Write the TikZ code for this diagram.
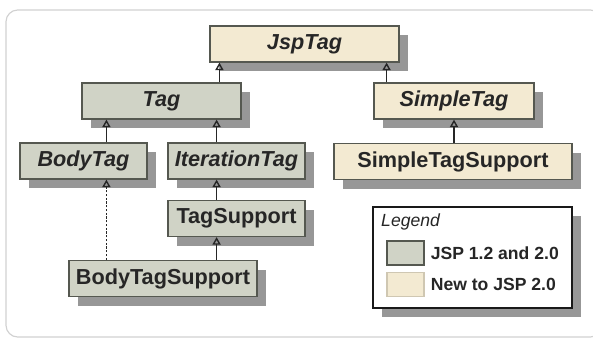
\documentclass[tikz,border=0pt]{standalone}
\usepackage{fontspec}
\setmainfont{Liberation Sans}
\usetikzlibrary{arrows.meta,shadows,calc}
\definecolor{oldfill}{RGB}{208,211,198}
\definecolor{newfill}{RGB}{243,234,210}
\definecolor{boxline}{RGB}{85,88,80}
\begin{document}
\begin{tikzpicture}
		[x=0.03cm,y=-0.03cm,
		cls/.style={draw=boxline,line width=1pt,minimum height=1.08cm,inner sep=0pt,
			font=\fontsize{18.5}{20}\selectfont\bfseries,text=black!85,
			drop shadow={shadow xshift=8pt,shadow yshift=-8pt,fill=black!45,opacity=0.9}},
		oldtag/.style={cls,fill=oldfill},
		newtag/.style={cls,fill=newfill},
		iface/.style={font=\fontsize{18.5}{20}\selectfont\bfseries\itshape},
		isa/.style={draw=black!85,line width=1.4pt,-{Triangle[open,length=6.5pt,width=7pt,line width=1.2pt]}},
		swatch/.style={draw=boxline,line width=1pt,minimum width=1.11cm,minimum height=0.72cm},
		legtext/.style={anchor=west,inner sep=0pt,font=\fontsize{15}{17}\selectfont\bfseries,text=black!85}]
		\useasboundingbox (0,0) rectangle (593,339);
		\draw[black!18,line width=1pt,rounded corners=10pt] (6,10) rectangle (602,337);
		\node[newtag,iface,minimum width=5.67cm] (jsptag) at (304.5,44) {JspTag};
		\node[oldtag,iface,minimum width=4.77cm] (tag) at (161.5,101) {Tag};
		\node[newtag,iface,minimum width=4.8cm] (simpletag) at (454,101) {SimpleTag};
		\node[oldtag,iface,minimum width=3.81cm] (bodytag) at (83.5,161) {BodyTag};
		\node[oldtag,iface,minimum width=4.11cm] (iterationtag) at (236.5,161) {IterationTag};
		\node[newtag,minimum width=7.14cm] (simpletagsupport) at (453,161.5) {SimpleTagSupport};
		\node[oldtag,minimum width=4.11cm] (tagsupport) at (236.5,218.5) {TagSupport};
		\node[oldtag,minimum width=5.64cm] (bodytagsupport) at (163,278.5) {BodyTagSupport};
		\coordinate (jspL) at ($(jsptag.south west)+(10,0)$);
		\coordinate (jspR) at ($(jsptag.south east)+(-13,0)$);
		\coordinate (tagL) at ($(tag.south west)+(25,0)$);
		\coordinate (tagR) at ($(tag.south east)+(-25,0)$);
		\draw[isa] (tag.north -| jspL) -- (jspL);
		\draw[isa] (simpletag.north -| jspR) -- (jspR);
		\draw[isa] (bodytag.north -| tagL) -- (tagL);
		\draw[isa] (iterationtag.north -| tagR) -- (tagR);
		\draw[isa] (simpletagsupport.north -| simpletag.south) -- (simpletag.south);
		\draw[isa,dash pattern=on 2pt off 1.2pt] (bodytagsupport.north -| tagL) -- (bodytag.south -| tagL);
		\draw[isa] (tagsupport.north -| tagR) -- (iterationtag.south -| tagR);
		\draw[isa] (bodytagsupport.north -| tagR) -- (tagsupport.south -| tagR);
		\node[draw=black!90,line width=1.5pt,fill=white,minimum width=5.97cm,minimum height=3.03cm,
			drop shadow={shadow xshift=8pt,shadow yshift=-8pt,fill=black!45,opacity=0.9}] (legend) at (472.5,257.5) {};
		\node[anchor=west,inner sep=0pt,font=\fontsize{15}{17}\selectfont\itshape,text=black!85] (legtitle) at (381,222) {Legend};
		\node[swatch,fill=oldfill] (sw1) at (405.5,253) {};
		\node[swatch,fill=newfill,draw=newfill!85!black] (sw2) at (405.5,284.5) {};
		\node[legtext] (leg1) at ($(sw1.east)+(6,0)$) {JSP 1.2 and 2.0};
		\node[legtext] (leg2) at ($(sw2.east)+(6,0)$) {New to JSP 2.0};
	\end{tikzpicture}
\end{document}
